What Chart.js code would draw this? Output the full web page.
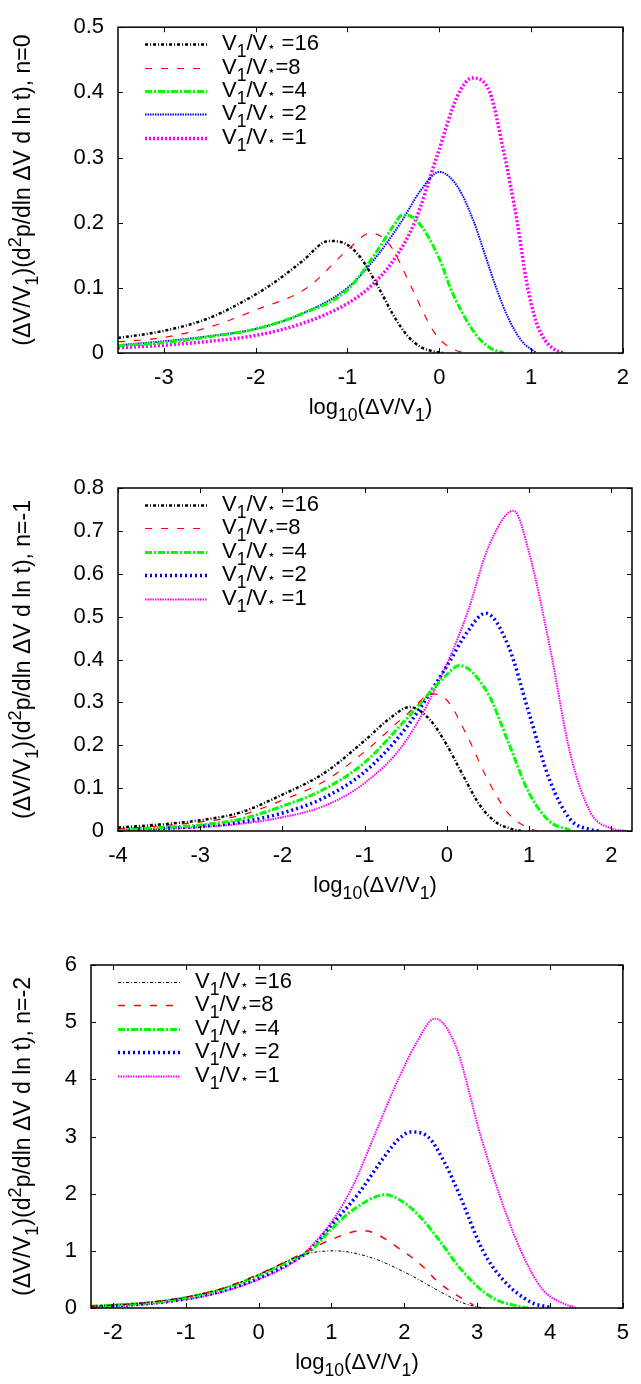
<!DOCTYPE html>
<html>
<head>
<meta charset="utf-8">
<script src="https://cdn.jsdelivr.net/npm/chart.js@4.4.1/dist/chart.umd.min.js"></script>
<style>
  body { margin: 0; background: #fff; width: 641px; height: 1384px; position: relative; overflow: hidden; }
  canvas { position: absolute; left: 0; }
</style>
</head>
<body>
<canvas id="c0" width="641" height="440" style="top:0;width:641px;height:440px"></canvas>
<canvas id="c1" width="641" height="480" style="top:440px;width:641px;height:480px"></canvas>
<canvas id="c2" width="641" height="464" style="top:920px;width:641px;height:464px"></canvas>
<script>
// Legend labels (gnuplot style markup: _ = subscript, ^ = superscript)
const seriesLabels = ['V_1/V_⋆ =16', 'V_1/V_⋆=8', 'V_1/V_⋆ =4', 'V_1/V_⋆ =2', 'V_1/V_⋆ =1'];
const seriesColors = ['#000000', '#ff0000', '#00ff00', '#0000ff', '#ff00ff'];
const xTitle = 'log_{10}(ΔV/V_1)';
const yTitles = [
  '(ΔV/V_1)(d^2p/dln ΔV d ln t), n=0',
  '(ΔV/V_1)(d^2p/dln ΔV d ln t), n=-1',
  '(ΔV/V_1)(d^2p/dln ΔV d ln t), n=-2'
];

// ---- n = 0 ----
const n0_x16 = [-3.5, -3, -2.5, -2, -1.75, -1.5, -1.2, -1, -0.85, -0.66, -0.5, -0.35, -0.2, -0.05, 0.05];
const n0_y16 = [0.023, 0.034, 0.054, 0.090, 0.113, 0.140, 0.172, 0.166, 0.145, 0.100, 0.058, 0.027, 0.009, 0.002, 0.0];
const n0_x8 = [-3.5, -3, -2.5, -2, -1.44, -1, -0.75, -0.55, -0.3, -0.18, -0.07, 0.05, 0.2, 0.3];
const n0_y8 = [0.017, 0.024, 0.040, 0.066, 0.100, 0.158, 0.184, 0.168, 0.100, 0.064, 0.035, 0.015, 0.003, 0.0];
const n0_x4 = [-3.5, -3, -2.5, -2, -1.5, -1, -0.7, -0.5, -0.4, -0.25, 0, 0.12, 0.25, 0.4, 0.55, 0.7];
const n0_y4 = [0.011, 0.016, 0.025, 0.037, 0.060, 0.097, 0.152, 0.195, 0.212, 0.204, 0.145, 0.100, 0.062, 0.028, 0.008, 0.0];
const n0_x2 = [-3.5, -3, -2.5, -2, -1.5, -1, -0.7, -0.42, -0.2, 0, 0.2, 0.38, 0.5, 0.62, 0.75, 0.9, 1.05];
const n0_y2 = [0.012, 0.018, 0.026, 0.037, 0.060, 0.100, 0.145, 0.200, 0.250, 0.278, 0.255, 0.200, 0.150, 0.100, 0.054, 0.018, 0.001];
const n0_x1 = [-3.5, -3, -2.5, -2, -1.5, -1, -0.75, -0.5, -0.27, -0.03, 0.2, 0.36, 0.55, 0.7, 0.85, 0.95, 1.05, 1.15, 1.25, 1.35];
const n0_y1 = [0.008, 0.012, 0.018, 0.027, 0.045, 0.076, 0.102, 0.142, 0.200, 0.300, 0.395, 0.422, 0.400, 0.310, 0.200, 0.110, 0.050, 0.020, 0.006, 0.0];

// ---- n = -1 ----
const n1_x16 = [-4, -3.5, -3, -2.5, -2, -1.5, -1, -0.7, -0.45, -0.2, 0, 0.2, 0.4, 0.6, 0.8, 0.9];
const n1_y16 = [0.008, 0.015, 0.025, 0.044, 0.085, 0.134, 0.211, 0.262, 0.289, 0.258, 0.200, 0.128, 0.060, 0.020, 0.004, 0.0];
const n1_x8 = [-4, -3.5, -3, -2.5, -2, -1.5, -1, -0.5, -0.17, 0, 0.25, 0.5, 0.75, 1.0, 1.1];
const n1_y8 = [0.005, 0.012, 0.021, 0.037, 0.072, 0.115, 0.185, 0.270, 0.320, 0.305, 0.220, 0.118, 0.040, 0.006, 0.0];
const n1_x4 = [-4, -3.5, -3, -2.5, -2, -1.5, -1, -0.5, 0, 0.15, 0.5, 0.75, 1.0, 1.25, 1.5];
const n1_y4 = [0.004, 0.008, 0.014, 0.028, 0.058, 0.097, 0.160, 0.260, 0.365, 0.386, 0.320, 0.205, 0.088, 0.022, 0.002];
const n1_x2 = [-4, -3.5, -3, -2.5, -2, -1.5, -1, -0.5, 0, 0.25, 0.47, 0.75, 1.0, 1.25, 1.5, 1.75, 1.85];
const n1_y2 = [0.003, 0.006, 0.011, 0.021, 0.042, 0.077, 0.138, 0.240, 0.385, 0.465, 0.508, 0.430, 0.273, 0.118, 0.027, 0.003, 0.0];
const n1_x1 = [-4, -3.5, -3, -2.5, -2, -1.5, -1, -0.5, 0, 0.25, 0.5, 0.81, 1.0, 1.25, 1.5, 1.75, 2.0, 2.2];
const n1_y1 = [0.002, 0.005, 0.009, 0.017, 0.032, 0.058, 0.112, 0.210, 0.390, 0.510, 0.660, 0.747, 0.648, 0.430, 0.180, 0.042, 0.006, 0.0];

// ---- n = -2 ----
const n2_x16 = [-2.3, -2, -1.5, -1, -0.5, 0, 0.5, 0.7, 1.03, 1.5, 2.0, 2.5, 2.8, 3.0, 3.1];
const n2_y16 = [0.03, 0.05, 0.10, 0.19, 0.34, 0.58, 0.88, 0.96, 1.0, 0.90, 0.63, 0.28, 0.09, 0.02, 0.0];
const n2_x8 = [-2.3, -2, -1.5, -1, -0.5, 0, 0.5, 0.75, 1.0, 1.43, 2.0, 2.25, 2.47, 2.75, 2.95];
const n2_y8 = [0.03, 0.05, 0.10, 0.19, 0.34, 0.59, 0.89, 1.05, 1.20, 1.355, 0.98, 0.73, 0.45, 0.20, 0.05];
const n2_x4 = [-2.3, -2, -1.5, -1, -0.5, 0, 0.5, 0.71, 1.0, 1.3, 1.74, 2.0, 2.25, 2.5, 2.75, 3.0, 3.25, 3.5, 3.7];
const n2_y4 = [0.03, 0.05, 0.09, 0.18, 0.33, 0.57, 0.87, 1.0, 1.38, 1.72, 1.98, 1.84, 1.55, 1.15, 0.72, 0.38, 0.15, 0.05, 0.0];
const n2_x2 = [-2.3, -2, -1.5, -1, -0.5, 0, 0.5, 0.7, 1.0, 1.37, 1.7, 1.92, 2.09, 2.32, 2.55, 2.75, 3.08, 3.35, 3.74, 4.0];
const n2_y2 = [0.02, 0.04, 0.08, 0.16, 0.30, 0.52, 0.84, 1.0, 1.45, 2.0, 2.6, 2.95, 3.08, 3.0, 2.55, 2.0, 1.0, 0.5, 0.1, 0.01];
const n2_x1 = [-2.3, -2, -1.5, -1, -0.5, 0, 0.5, 0.66, 1.0, 1.3, 1.6, 1.9, 2.15, 2.42, 2.7, 3.05, 3.3, 3.6, 3.9, 4.18, 4.35];
const n2_y1 = [0.02, 0.03, 0.07, 0.15, 0.28, 0.50, 0.82, 1.0, 1.5, 2.15, 3.05, 3.95, 4.6, 5.06, 4.6, 3.0, 2.0, 1.0, 0.32, 0.08, 0.01];

const FONT = '"Liberation Sans", Arial, "DejaVu Sans", sans-serif';

// split "a_1b^{2}" into plain / sub / sup pieces
function parseRich(s) {
    const parts = [];
    const re = /([_^])(\{[^}]*\}|.)/g;
    let last = 0, m;
    while ((m = re.exec(s))) {
        if (m.index > last) parts.push({ t: s.slice(last, m.index), k: '' });
        let t = m[2];
        if (t[0] === '{') t = t.slice(1, -1);
        parts.push({ t: t, k: m[1] });
        last = re.lastIndex;
    }
    if (last < s.length) parts.push({ t: s.slice(last), k: '' });
    return parts;
}

function drawRich(ctx, s, x, y, size, align) {
    const parts = parseRich(s);
    const sizeOf = p => p.t === '⋆' ? size * 0.6 : (p.k ? size * 0.8 : size);
    let w = 0;
    parts.forEach(p => {
        ctx.font = sizeOf(p) + 'px ' + FONT;
        p.w = ctx.measureText(p.t).width;
        w += p.w;
    });
    let cx = align === 'center' ? x - w / 2 : x;
    ctx.textAlign = 'left';
    ctx.textBaseline = 'alphabetic';
    parts.forEach(p => {
        ctx.font = sizeOf(p) + 'px ' + FONT;
        let dy = 0;
        if (p.t === '⋆') dy = size * 0.05;
        else if (p.k === '_') dy = size * 0.33;
        else if (p.k === '^') dy = -size * 0.4;
        ctx.fillText(p.t, cx, y + dy);
        cx += p.w;
    });
}

// box with inward ticks on all four sides
const framePlugin = {
    id: 'frame',
    afterDatasetsDraw(chart) {
        const { ctx, chartArea: a, scales: { x, y } } = chart;
        ctx.save();
        ctx.strokeStyle = '#000';
        ctx.lineWidth = 1;
        ctx.beginPath();
        x.ticks.forEach(t => {
            const px = Math.round(x.getPixelForValue(t.value)) + 0.5;
            ctx.moveTo(px, a.bottom); ctx.lineTo(px, a.bottom - 5);
            ctx.moveTo(px, a.top); ctx.lineTo(px, a.top + 5);
        });
        y.ticks.forEach(t => {
            const py = Math.round(y.getPixelForValue(t.value)) + 0.5;
            ctx.moveTo(a.left, py); ctx.lineTo(a.left + 5, py);
            ctx.moveTo(a.right, py); ctx.lineTo(a.right - 5, py);
        });
        ctx.stroke();
        ctx.lineWidth = 1.5;
        ctx.strokeRect(a.left, a.top, a.right - a.left, a.bottom - a.top);
        ctx.restore();
    }
};

// axis titles and key, drawn in gnuplot fashion
const annotPlugin = {
    id: 'annot',
    afterDraw(chart, args, opts) {
        const { ctx, chartArea: a } = chart;
        ctx.save();
        ctx.fillStyle = '#000';
        // key
        chart.data.datasets.forEach((ds, i) => {
            const ly = Math.round(a.top + 17 + i * 23.4) + 0.5;
            ctx.save();
            ctx.strokeStyle = ds.borderColor;
            ctx.lineWidth = ds.borderWidth;
            ctx.setLineDash(ds.borderDash);
            ctx.beginPath();
            ctx.moveTo(a.left + 27, ly);
            ctx.lineTo(a.left + 89, ly);
            ctx.stroke();
            ctx.restore();
            drawRich(ctx, ds.label, a.left + 104, ly + 5, opts.keySize, 'left');
        });
        // x title
        drawRich(ctx, opts.xTitle, (a.left + a.right) / 2, a.bottom + 61, opts.titleSize, 'center');
        // y title
        ctx.translate(30, (a.top + a.bottom) / 2);
        ctx.rotate(-Math.PI / 2);
        drawRich(ctx, opts.yTitle, 0, 0, opts.yTitleSize, 'center');
        ctx.restore();
    }
};

function makePanel(id, p) {
    const canvas = document.getElementById(id);
    const H = canvas.height;
    const tickFont = { family: FONT, size: 22 };
    new Chart(canvas, {
        type: 'line',
        data: {
            datasets: p.series.map((s, i) => ({
                label: seriesLabels[i],
                data: s[0].map((v, j) => ({ x: v, y: s[1][j] })),
                borderColor: seriesColors[i],
                borderWidth: p.widths[i],
                borderDash: p.dashes[i],
                pointRadius: 0,
                fill: false,
                cubicInterpolationMode: 'monotone'
            }))
        },
        options: {
            responsive: false,
            animation: false,
            layout: { padding: { top: p.top, right: 9, left: 0, bottom: 0 } },
            plugins: {
                legend: { display: false },
                tooltip: { enabled: false },
                annot: { xTitle: xTitle, yTitle: p.yTitle, titleSize: 22, yTitleSize: 23, keySize: 22 }
            },
            scales: {
                x: {
                    type: 'linear',
                    min: p.xMin,
                    max: p.xMax,
                    afterFit: s => { s.height = H - p.bottom; },
                    grid: { display: false, drawTicks: false },
                    border: { display: false },
                    ticks: {
                        stepSize: 1, includeBounds: false, autoSkip: false, maxRotation: 0,
                        padding: 12, font: tickFont, color: '#000',
                        callback: v => String(v)
                    }
                },
                y: {
                    min: 0,
                    max: p.yMax,
                    afterFit: s => { s.width = p.left; },
                    grid: { display: false, drawTicks: false },
                    border: { display: false },
                    ticks: {
                        stepSize: p.yStep, includeBounds: false, padding: 14, font: tickFont, color: '#000',
                        callback: v => String(Math.round(v * 10) / 10)
                    }
                }
            }
        },
        plugins: [framePlugin, annotPlugin]
    });
}

// dash styles
const dashDotDot = [3, 2, 1, 2];
const dashed = [7, 9];
const dashDot = [7, 2, 2, 2];
const fineDot = [1.5, 1];
const coarseDot = [2, 2];

makePanel('c0', {
    top: 11, bottom: 353, left: 118, xMin: -3.5, xMax: 2, yMax: 0.5, yStep: 0.1,
    yTitle: yTitles[0],
    series: [[n0_x16, n0_y16], [n0_x8, n0_y8], [n0_x4, n0_y4], [n0_x2, n0_y2], [n0_x1, n0_y1]],
    widths: [2.5, 1.2, 3, 2, 3.5],
    dashes: [dashDotDot, dashed, dashDot, fineDot, coarseDot]
});

makePanel('c1', {
    top: 48, bottom: 391, left: 118, xMin: -4, xMax: 2.25, yMax: 0.8, yStep: 0.1,
    yTitle: yTitles[1],
    series: [[n1_x16, n1_y16], [n1_x8, n1_y8], [n1_x4, n1_y4], [n1_x2, n1_y2], [n1_x1, n1_y1]],
    widths: [2.5, 1.2, 3, 3.5, 2],
    dashes: [dashDotDot, dashed, dashDot, [2, 3], fineDot]
});

makePanel('c2', {
    top: 45, bottom: 388, left: 91, xMin: -2.3, xMax: 5, yMax: 6, yStep: 1,
    yTitle: yTitles[2],
    series: [[n2_x16, n2_y16], [n2_x8, n2_y8], [n2_x4, n2_y4], [n2_x2, n2_y2], [n2_x1, n2_y1]],
    widths: [1, 1.5, 3, 3.5, 2],
    dashes: [dashDotDot, dashed, dashDot, [2, 3], fineDot]
});
</script>
</body>
</html>
